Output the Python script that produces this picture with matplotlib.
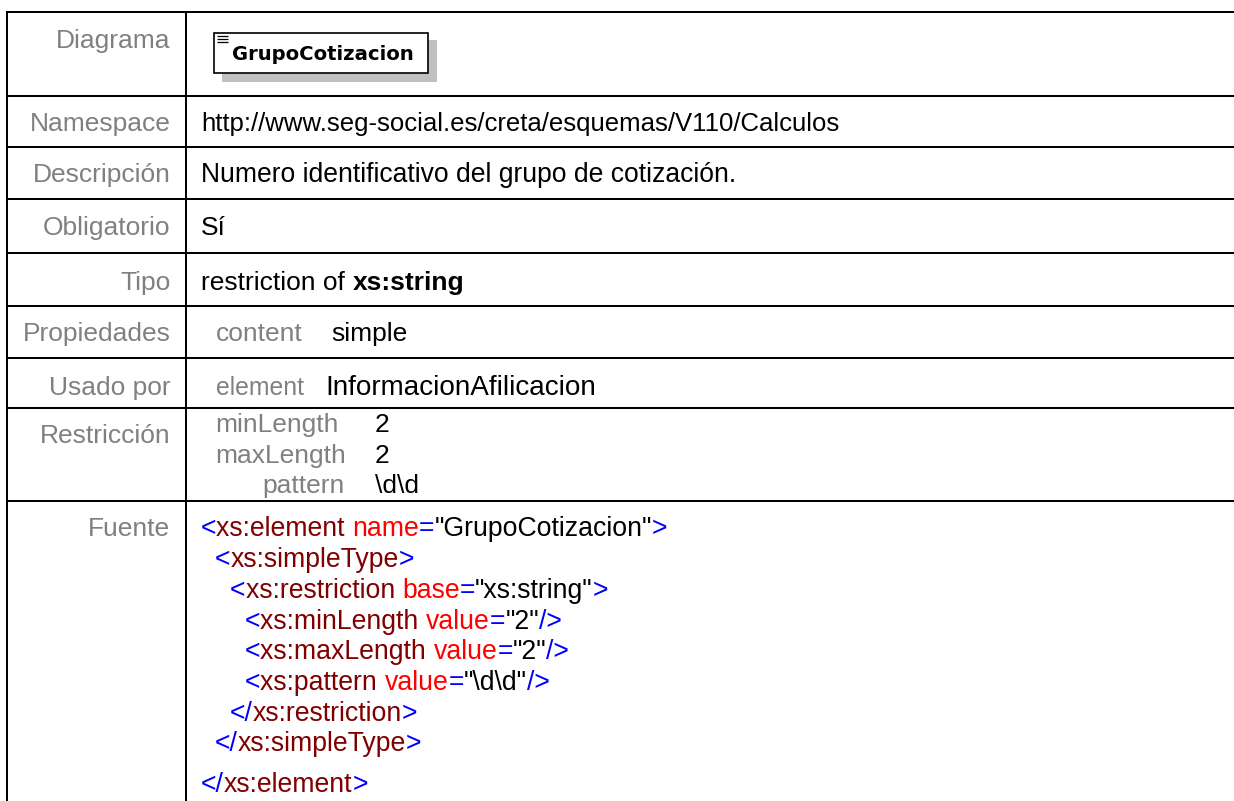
import matplotlib
matplotlib.use("Agg")
import matplotlib.pyplot as plt
from matplotlib.patches import Rectangle

W, H = 1234, 801

plt.rcParams['font.family'] = ['Liberation Sans', 'DejaVu Sans']

GREY = "#808080"
BLUE = "#0000ff"
MAROON = "#800000"
RED = "#ff0000"
BLACK = "#000000"
FS = 19

row_labels = ["Diagrama", "Namespace", "Descripción", "Obligatorio", "Tipo",
              "Propiedades", "Usado por", "Restricción", "Fuente"]
label_y = [48, 131, 182, 235, 290, 341, 395, 443, 536]
row_lines = [12, 96, 147, 199, 253, 306, 358, 408, 501]

# x, baseline, text, size
plain_cells = [
    (201, 131, "http://www.seg-social.es/creta/esquemas/V110/Calculos", 18.5),
    (201, 182, "Numero identificativo del grupo de cotización.", 19.1),
    (201, 235, "Sí", FS),
    (201, 290, "restriction of", FS),
    (331, 341, "simple", FS),
    (325, 395, "InformacionAfilicacion", 20.1),
    (375, 432, "2", FS),
    (375, 463, "2", FS),
    (375, 493, r"\d\d", FS),
]
grey_cells = [
    (216, 341, "content", "left", FS),
    (216, 395, "element", "left", 17.8),
    (215, 432, "minLength", "left", FS),
    (215, 463, "maxLength", "left", FS),
    (345, 493, "pattern", "right", FS),
]

# xml source, one list of (text, colour) runs per line
source_lines = [
    (201, 536, [("<", BLUE), ("xs:element ", MAROON), ("name", RED), ("=", BLUE),
                ("\"GrupoCotizacion\"", BLACK), (">", BLUE)]),
    (215, 567, [("<", BLUE), ("xs:simpleType", MAROON), (">", BLUE)]),
    (230, 598, [("<", BLUE), ("xs:restriction ", MAROON), ("base", RED), ("=", BLUE),
                ("\"xs:string\"", BLACK), (">", BLUE)]),
    (245, 629, [("<", BLUE), ("xs:minLength ", MAROON), ("value", RED), ("=", BLUE),
                ("\"2\"", BLACK), ("/>", BLUE)]),
    (245, 659, [("<", BLUE), ("xs:maxLength ", MAROON), ("value", RED), ("=", BLUE),
                ("\"2\"", BLACK), ("/>", BLUE)]),
    (245, 690, [("<", BLUE), ("xs:pattern ", MAROON), ("value", RED), ("=", BLUE),
                ("\"\\d\\d\"", BLACK), ("/>", BLUE)]),
    (230, 721, [("</", BLUE), ("xs:restriction", MAROON), (">", BLUE)]),
    (215, 751, [("</", BLUE), ("xs:simpleType", MAROON), (">", BLUE)]),
    (201, 792, [("</", BLUE), ("xs:element", MAROON), (">", BLUE)]),
]

fig = plt.figure(figsize=(W / 100, H / 100), dpi=100)
ax = fig.add_axes([0, 0, 1, 1])
ax.set_xlim(0, W)
ax.set_ylim(H, 0)
ax.axis("off")


def run_text(x, y, runs, size=19.15):
    r = fig.canvas.get_renderer()
    for s, c in runs:
        t = ax.text(x, y, s, color=c, fontsize=size, va="baseline", ha="left")
        w = t.get_window_extent(r).width
        # trailing spaces are not measured, use a hidden bar to get the gap
        if s.endswith(" "):
            probe = ax.text(0, 0, s + "|", fontsize=size, alpha=0)
            bar = ax.text(0, 0, "|", fontsize=size, alpha=0)
            w = probe.get_window_extent(r).width - bar.get_window_extent(r).width
        x += w


# table grid
for y in row_lines:
    ax.plot([6, W], [y, y], color="black", lw=1.45, solid_capstyle="butt")
ax.plot([7, 7], [12, H], color="black", lw=1.45, solid_capstyle="butt")
ax.plot([186, 186], [12, H], color="black", lw=1.45, solid_capstyle="butt")

for name, y in zip(row_labels, label_y):
    ax.text(170.5, y, name, color=GREY, fontsize=FS, ha="right", va="baseline")

for x, y, s, size in plain_cells:
    ax.text(x, y, s, color=BLACK, fontsize=size, va="baseline")
ax.text(353, 290, "xs:string", color=BLACK, fontsize=FS, fontweight="bold", va="baseline")

for x, y, s, align, size in grey_cells:
    ax.text(x, y, s, color=GREY, fontsize=size, ha=align, va="baseline")

for x, y, runs in source_lines:
    run_text(x, y, runs)

# element box in the diagram cell
ax.add_patch(Rectangle((222, 40), 215, 42, color="#c0c0c0", lw=0))
ax.add_patch(Rectangle((213.5, 32.5), 214.5, 40.5, fc="white", ec="black", lw=1.2))
for y in (35.5, 38.5, 41.5):
    ax.plot([217, 228], [y, y], color="black", lw=0.9, solid_capstyle="butt")
ax.text(232, 60, "GrupoCotizacion", color="black", fontsize=14.1, fontweight="bold",
        family="DejaVu Sans", va="baseline")

fig.savefig("out.png", dpi=100)
